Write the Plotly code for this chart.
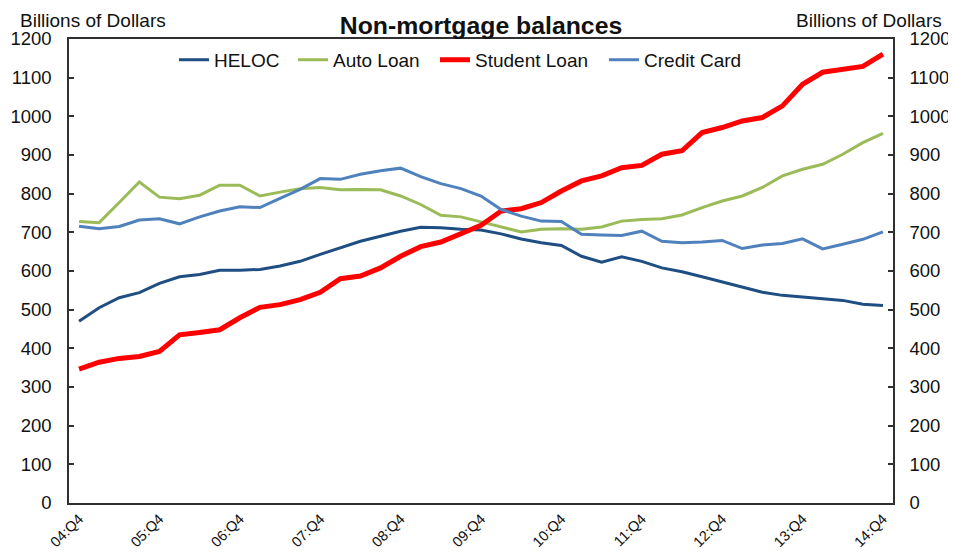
import plotly.graph_objects as go

years = ["04", "05", "06", "07", "08", "09", "10", "11", "12", "13", "14"]
quarters = ["04:Q4"] + [f"{y}:Q{q}" for y in years[1:] for q in (1, 2, 3, 4)]
tick_labels = [f"{y}:Q4" for y in years]

heloc = [470, 505, 531, 544, 568, 585, 591, 602, 602, 604,
         613, 625, 643, 660, 677, 690, 703, 713, 712, 708,
         706, 696, 683, 673, 666, 638, 623, 637, 625, 608,
         598, 585, 572, 557, 545, 537, 533, 529, 524, 514, 511]
auto_loan = [728, 725, 777, 830, 791, 787, 796, 822, 822, 794,
             804, 813, 816, 810, 811, 810, 794, 772, 744, 740,
             727, 714, 701, 708, 709, 708, 714, 729, 733, 735,
             745, 764, 781, 794, 816, 846, 863, 876, 902, 932, 956]
student_loan = [346, 364, 374, 379, 392, 435, 441, 448, 479, 506,
                513, 526, 545, 580, 587, 608, 638, 663, 675, 696,
                718, 755, 761, 777, 807, 833, 846, 867, 873, 902,
                911, 958, 971, 988, 997, 1027, 1083, 1114, 1121, 1129, 1161]
credit_card = [716, 709, 715, 732, 735, 722, 740, 755, 766, 764,
               788, 811, 839, 837, 850, 859, 866, 844, 826, 813,
               794, 759, 742, 729, 728, 695, 693, 692, 703, 677,
               673, 675, 679, 658, 667, 671, 683, 657, 669, 682, 701]

series = [
    ("HELOC", heloc, "#1F4E83", 3, "legend"),
    ("Auto Loan", auto_loan, "#9BBB59", 3, "legend2"),
    ("Student Loan", student_loan, "#FF0000", 5, "legend3"),
    ("Credit Card", credit_card, "#4F81BD", 3, "legend4"),
]
legend_x = [0.1274, 0.2718, 0.4442, 0.6493]

FONT = "Arial, Liberation Sans, sans-serif"
AX = "#303030"

# page body has an 8px margin: figure is sized/offset to compensate
W, H = 948, 546

fig = go.Figure()
for name, vals, color, w, lg in series:
    fig.add_trace(go.Scatter(x=quarters, y=vals, name=name, mode="lines",
                             line=dict(color=color, width=w), legend=lg))
# helper trace so right axis is drawn
fig.add_trace(go.Scatter(x=[], y=[], yaxis="y2", showlegend=False, hoverinfo="skip"))

def leg(x):
    return dict(orientation="h", x=x, xanchor="left", y=0.955, yanchor="middle",
                bgcolor="rgba(0,0,0,0)", font=dict(size=19, family=FONT, color="#111"),
                itemwidth=30)

fig.update_layout(
    width=W, height=H,
    margin=dict(l=61, r=63, t=31, b=51),
    paper_bgcolor="white", plot_bgcolor="white",
    font=dict(family=FONT, size=19, color="#111"),
    title=dict(text="<b>Non-mortgage balances</b>", x=(481 - 8) / W, xanchor="center",
               y=1 - (25 - 8) / H, yanchor="middle", yref="container",
               font=dict(size=24.8, family=FONT, color="#111")),
    showlegend=True,
    legend=leg(legend_x[0]),
    legend2=leg(legend_x[1]),
    legend3=leg(legend_x[2]),
    legend4=leg(legend_x[3]),
    xaxis=dict(type="category", range=[-0.5, 40.5], tickmode="array",
               tickvals=tick_labels, ticktext=tick_labels, tickangle=-45,
               ticks="", showgrid=False, showline=True, linecolor=AX, linewidth=1.5,
               mirror=True, tickfont=dict(size=14.5, family=FONT), automargin=False),
    xaxis2=dict(overlaying="x", anchor="y", side="bottom", type="linear",
                range=[-0.5, 40.5], tickmode="array",
                tickvals=[3.5 + 4 * i for i in range(10)],
                ticks="inside", ticklen=5, tickwidth=1.5, tickcolor=AX,
                showticklabels=False, showgrid=False, showline=False, zeroline=False),
    yaxis=dict(range=[0, 1200], tickmode="array", tickvals=list(range(0, 1201, 100)),
               ticks="inside", ticklen=5, tickwidth=1.5, tickcolor=AX,
               showgrid=False, zeroline=False, showline=True, linecolor=AX, linewidth=1.5,
               tickfont=dict(size=18.5, family=FONT), ticklabelstandoff=12, automargin=False),
    yaxis2=dict(range=[0, 1200], overlaying="y", side="right", anchor="x",
                tickmode="array", tickvals=list(range(0, 1201, 100)),
                ticks="inside", ticklen=5, tickwidth=1.5, tickcolor=AX,
                showgrid=False, zeroline=False, showline=True, linecolor=AX, linewidth=1.5,
                tickfont=dict(size=18.5, family=FONT), ticklabelstandoff=11, automargin=False),
    annotations=[
        dict(text="Billions of Dollars", xref="paper", yref="paper",
             x=(18 - 69) / 824, y=(503 - 20.5) / 464, xanchor="left", yanchor="middle",
             showarrow=False, font=dict(size=19, family=FONT, color="#111")),
        dict(text="Billions of Dollars", xref="paper", yref="paper",
             x=(944 - 69) / 824, y=(503 - 20.5) / 464, xanchor="right", yanchor="middle",
             showarrow=False, font=dict(size=19, family=FONT, color="#111")),
    ],
)

fig.write_html("out.html")
